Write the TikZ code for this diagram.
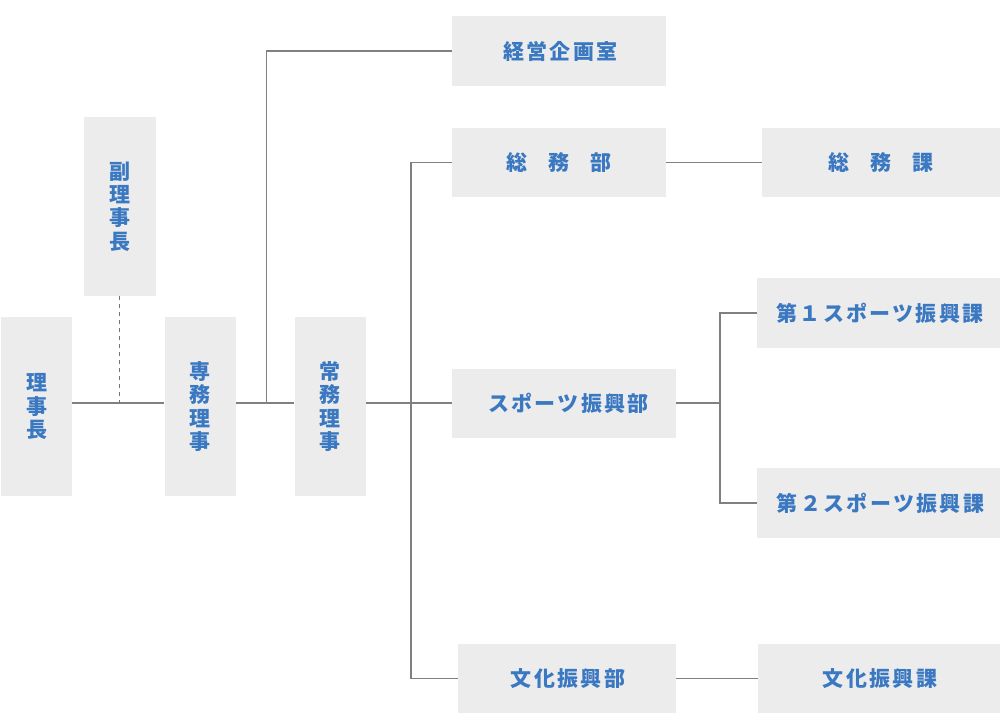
\documentclass[tikz,border=0pt]{standalone}
\usepackage{fontspec}
\newfontfamily\jp{Noto Sans CJK JP}
\newfontfamily\jpls{Noto Sans CJK JP}[LetterSpace=11]
\definecolor{boxfill}{RGB}{236,236,236}
\definecolor{txt}{RGB}{59,120,194}
\definecolor{ln}{RGB}{128,128,128}
\tikzset{
  box/.style={fill=boxfill, draw=none, inner sep=0pt, text=txt, font=\jp\bfseries\fontsize{21}{23.3}\selectfont, align=center},
  wide/.style={box, font=\jpls\bfseries\fontsize{21}{23.3}\selectfont},
  conn/.style={draw=ln, line width=1.4pt},
  dash conn/.style={draw=ln!90!black, line width=1.2pt, dash pattern=on 4pt off 4pt}
}
\begin{document}
\begin{tikzpicture}[x=1pt,y=-1pt]
\useasboundingbox (0,0) rectangle (1000,713);
% vertical boxes
\node[box, minimum width=71pt, minimum height=179pt] (richo) at (36.5,406.5) {理\\事\\長};
\node[box, minimum width=71.5pt, minimum height=179pt] (fuku) at (119.75,206.5) {副\\理\\事\\長};
\node[box, minimum width=71.5pt, minimum height=179pt] (senmu) at (200.25,406.5) {専\\務\\理\\事};
\node[box, minimum width=71.5pt, minimum height=179pt] (jomu) at (330.25,406.5) {常\\務\\理\\事};
% horizontal boxes
\node[wide, minimum width=214pt, minimum height=70pt] (keiei) at (559,51) {\hspace*{3pt}経営企画室};
\node[box, minimum width=214pt, minimum height=69pt] (somubu) at (559,162.5) {総　務　部};
\node[box, minimum width=238pt, minimum height=69pt] (somuka) at (881,162.5) {総　務　課};
\node[wide, minimum width=224pt, minimum height=69pt] (sports) at (564,403.5) {\hspace*{9pt}スポーツ振興部};
\node[wide, minimum width=243pt, minimum height=70pt] (dai1) at (878.5,313) {\hspace*{3pt}第１スポーツ振興課};
\node[wide, minimum width=243pt, minimum height=70pt] (dai2) at (878.5,503) {\hspace*{4pt}第２スポーツ振興課};
\node[wide, minimum width=218pt, minimum height=69pt] (bunka) at (567,678.5) {\hspace*{2pt}文化振興部};
\node[wide, minimum width=242pt, minimum height=69pt] (bunkaka) at (879,678.5) {\hspace*{2pt}文化振興課};
% junction coordinates
\coordinate (m) at (0,403);
\coordinate (b1) at (266.5,403);
\coordinate (b2) at (411,403);
\coordinate (b3) at (720,403);
% connectors
\draw[conn] (richo.east |- m) -- (senmu.west |- m);
\draw[dash conn] (fuku.south) -- (fuku.south |- m);
\draw[conn] (senmu.east |- m) -- (jomu.west |- m);
\draw[conn] (b1) |- (keiei.west);
\draw[conn] (jomu.east |- m) -- (sports.west |- m);
\draw[conn] (somubu.west) -- (b2 |- somubu.west) -- (b2 |- bunka.west) -- (bunka.west);
\draw[conn] (somubu.east) -- (somuka.west);
\draw[conn] (sports.east |- m) -- (b3);
\draw[conn] (dai1.west) -- (b3 |- dai1.west) -- (b3 |- dai2.west) -- (dai2.west);
\draw[conn] (bunka.east) -- (bunkaka.west);
\end{tikzpicture}
\end{document}
